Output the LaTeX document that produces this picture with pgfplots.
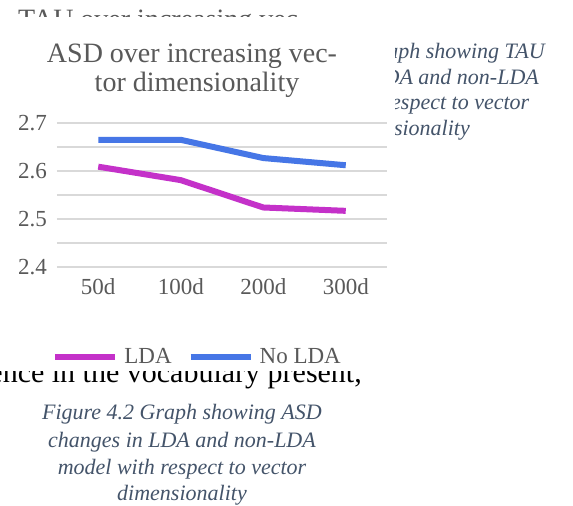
\documentclass[border=0pt]{standalone}
\usepackage{pgfplots}
\pgfplotsset{compat=1.18}
\usepackage{fontspec}
\setmainfont{Liberation Serif}
\definecolor{ldac}{HTML}{C431C9}
\definecolor{noldac}{HTML}{4676E6}
\definecolor{gridc}{HTML}{D9D9D9}
\definecolor{txtc}{HTML}{595959}
\definecolor{capc}{HTML}{44546A}
\newcommand{\fs}[1]{\fontsize{#1}{#1}\selectfont}
\begin{document}
\begin{tikzpicture}
\useasboundingbox (0pt,0pt) rectangle (573pt,-506pt);
\fill[white] (0pt,0pt) rectangle (573pt,-506pt);
% background document text
\node[anchor=base west, inner sep=0pt, text=txtc, font=\fs{28}] at (18pt,-28.5pt) {TAU over increasing vec-};
\begin{scope}[every node/.style={anchor=base, inner sep=0pt, text=capc, font=\fs{22}\itshape}]
\node at (405pt,-58pt) {Figure 4.1 Graph showing TAU};
\node at (405pt,-84pt) {changes in LDA and non-LDA};
\node at (405pt,-109.5pt) {model with respect to vector};
\node at (405pt,-135pt) {dimensionality};
\node at (182pt,-419pt) {Figure 4.2 Graph showing ASD};
\node at (182pt,-447pt) {changes in LDA and non-LDA};
\node at (182pt,-474pt) {model with respect to vector};
\node at (182pt,-500pt) {dimensionality};
\end{scope}
\node[anchor=base east, inner sep=0pt, text=black, font=\fs{30}] at (362pt,-382pt) {difference in the vocabulary present,};
% chart panel
\fill[white] (-2pt,-17pt) rectangle (395pt,-371pt);
\node[anchor=base, inner sep=0pt, text=txtc, font=\fs{28}] at (192pt,-62.3pt) {ASD over increasing vec-};
\node[anchor=base, inner sep=0pt, text=txtc, font=\fs{28}] at (197pt,-91.7pt) {tor dimensionality};
\begin{axis}[
  at={(57pt,-267pt)}, anchor=south west,
  width=330pt, height=144pt, scale only axis,
  xmin=-0.5, xmax=3.5, ymin=2.4, ymax=2.7,
  axis line style={draw=none},
  major tick length=0pt, minor tick length=0pt,
  xtick={0,1,2,3}, xticklabels={50d,100d,200d,300d},
  ytick={2.4,2.5,2.6,2.7}, minor ytick={2.45,2.55,2.65},
  ymajorgrids, yminorgrids,
  major grid style={gridc, line width=1.5pt},
  minor grid style={gridc, line width=1.5pt},
  /pgf/number format/assume math mode=true,
  yticklabel style={/pgf/number format/fixed, /pgf/number format/precision=1, /pgf/number format/fixed zerofill, inner sep=0pt, xshift=-10pt},
  xticklabel style={inner sep=0pt, yshift=-11pt},
  ticklabel style={font=\fs{23}, text=txtc},
  clip=false,
  legend columns=2,
  legend style={draw=none, fill=none, at={(0.423,-0.625)}, anchor=center,
    font=\fs{23}, text=txtc, nodes={inner sep=0pt},
    /tikz/every odd column/.append style={column sep=6pt},
    /tikz/every even column/.append style={column sep=16pt}},
  legend image code/.code={\draw[#1, line width=6pt, line cap=butt] (0pt,0pt) -- (60pt,0pt);},
]
\addplot[ldac, line width=6pt, line join=round] coordinates {(0,2.609) (1,2.581) (2,2.524) (3,2.517)};
\addlegendentry{LDA}
\addplot[noldac, line width=6pt, line join=round] coordinates {(0,2.665) (1,2.665) (2,2.627) (3,2.612)};
\addlegendentry{No LDA}
\end{axis}
\end{tikzpicture}
\end{document}
